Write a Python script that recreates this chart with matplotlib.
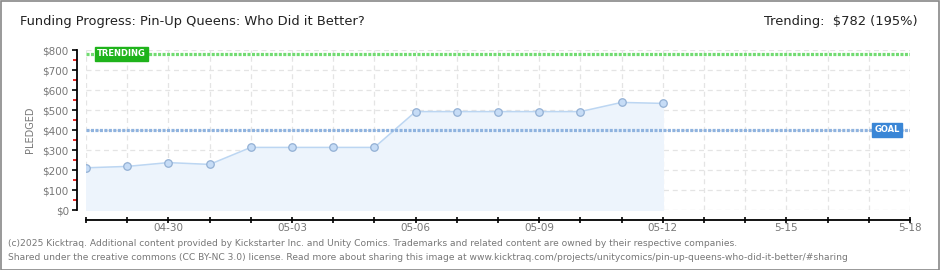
import matplotlib
matplotlib.use("Agg")
import matplotlib.pyplot as plt
from matplotlib.patches import Rectangle

# ---- data ----
days = list(range(15))  # day index from 04-28
pledged = [211, 218, 237, 228, 313, 313, 313, 313, 492, 492, 492, 492, 492, 538, 533]
goal = 400
trending = 782
tick_days = [2, 5, 8, 11, 14, 17, 20]
tick_labels = ["04-30", "05-03", "05-06", "05-09", "05-12", "5-15", "5-18"]
y_ticks = [0, 100, 200, 300, 400, 500, 600, 700, 800]
y_labels = ["$0", "$100", "$200", "$300", "$400", "$500", "$600", "$700", "$800"]
title = "Funding Progress: Pin-Up Queens: Who Did it Better?"
trend_text = "Trending:  $782 (195%)"
footer1 = "(c)2025 Kicktraq. Additional content provided by Kickstarter Inc. and Unity Comics. Trademarks and related content are owned by their respective companies."
footer2 = "Shared under the creative commons (CC BY-NC 3.0) license. Read more about sharing this image at www.kicktraq.com/projects/unitycomics/pin-up-queens-who-did-it-better/#sharing"

W, H = 940, 270
PX = 72 / 100  # points per pixel
fig = plt.figure(figsize=(W / 100, H / 100), dpi=100)
fig.patch.set_facecolor("white")
fig.add_artist(Rectangle((0.5 / W, 0.5 / H), 1 - 1.5 / W, 1 - 1.5 / H, transform=fig.transFigure,
                         fill=False, edgecolor="#888888", linewidth=1.2))

ax = fig.add_axes([86 / W, 1 - 210 / H, (910 - 86) / W, (210 - 50) / H])
ax.set_xlim(0, 20)
ax.set_ylim(0, 800)
ax.set_facecolor("white")

for d in range(0, 21):
    ax.axvline(d, color="#e4e4e4", lw=0.9, ls=(0, (4, 3)), zorder=0)
for v in y_ticks:
    ax.axhline(v, color="#e4e4e4", lw=0.9, ls=(0, (4, 3)), zorder=0)

ax.fill_between(days, pledged, 0, color="#edf4fc", zorder=1)
ax.plot(days, pledged, color="#bcd6f2", lw=1.1, zorder=2)
ax.plot(days, pledged, ls="none", marker="o", ms=5.4, mfc="#c6dcf6", mec="#93b0d4", mew=0.9, zorder=4)

ax.axhline(goal, color="#8fb3df", lw=2.3, ls=(0, (0.95, 0.45)), zorder=3)
ax.axhline(trending, color="#72db72", lw=2.3, ls=(0, (0.95, 0.45)), zorder=3)

ax.text(0.27, trending, "TRENDING", color="white", fontsize=6, fontweight="bold",
        va="center", ha="left", zorder=6,
        bbox=dict(boxstyle="square,pad=0.3", fc="#1fb31b", ec="#1fb31b"))
ax.text(19.13, goal, "GOAL", color="white", fontsize=6, fontweight="bold",
        va="center", ha="left", zorder=6,
        bbox=dict(boxstyle="square,pad=0.3", fc="#3a86d6", ec="#3a86d6"))

for s in ["top", "right"]:
    ax.spines[s].set_visible(False)
ax.spines["left"].set_position(("outward", 9.5 * PX))
ax.spines["bottom"].set_position(("outward", 10 * PX))
ax.spines["left"].set_bounds(0, 800)
ax.spines["bottom"].set_bounds(0, 20)
ax.spines["left"].set_linewidth(1.3)
ax.spines["bottom"].set_linewidth(1.3)

ax.set_yticks(y_ticks)
ax.set_yticklabels(y_labels)
ax.set_yticks(list(range(50, 800, 100)), minor=True)
ax.tick_params(axis="y", which="major", length=3.5, width=1.2, color="black",
               labelsize=7.5, labelcolor="#777777", pad=2)
ax.tick_params(axis="y", which="minor", length=3, width=1.2, color="#e00000")

ax.set_xticks(range(0, 21), minor=True)
ax.set_xticks(tick_days)
ax.set_xticklabels(tick_labels)
ax.tick_params(axis="x", which="both", direction="inout", length=5, width=1.2, color="black",
               labelsize=7.5, labelcolor="#777777", pad=0)

ax.set_ylabel("PLEDGED", fontsize=7, color="#777777")
ax.yaxis.set_label_coords(-0.062, 0.5)

fig.text(20 / W, 1 - 22 / H, title, fontsize=9.4, color="#222222", va="center", ha="left")
fig.text(918 / W, 1 - 22 / H, trend_text, fontsize=9.4, color="#222222", va="center", ha="right")

fig.text(8 / W, 1 - 243 / H, footer1, fontsize=6.6, color="#777777", va="center", ha="left")
fig.text(8 / W, 1 - 257 / H, footer2, fontsize=6.6, color="#777777", va="center", ha="left")

fig.savefig("out.png", dpi=100, facecolor="white")
